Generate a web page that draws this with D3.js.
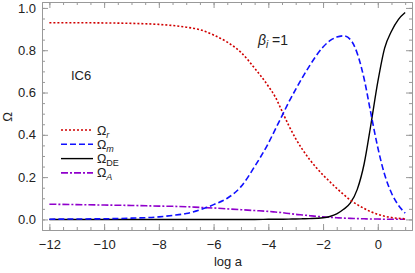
<!DOCTYPE html>
<html>
<head>
<meta charset="utf-8">
<script src="https://cdn.jsdelivr.net/npm/d3@7"></script>
<style>
  body { margin: 0; background: #fff; }
  svg text { font-family: "Liberation Sans", Arial, sans-serif; }
</style>
</head>
<body>
<div id="chart"></div>
<script>
// x values (log a) shared by all curves
const logA = [-12, -11, -10, -9, -8, -7.5, -7, -6.5, -6, -5.5, -5, -4.5, -4, -3.75, -3.5, -3.25, -3, -2.75, -2.5, -2, -1.75, -1.5, -1.25, -1, -0.75, -0.5, -0.25, 0, 0.25, 0.5, 0.75, 1];

const omegaR  = [0.930, 0.930, 0.929, 0.927, 0.922, 0.917, 0.909, 0.897, 0.872, 0.838, 0.790, 0.715, 0.630, 0.580, 0.512, 0.443, 0.382, 0.330, 0.285, 0.210, 0.178, 0.147, 0.118, 0.091, 0.070, 0.052, 0.036, 0.024, 0.015, 0.009, 0.005, 0.003];
const omegaM  = [0.001, 0.002, 0.003, 0.006, 0.012, 0.019, 0.028, 0.045, 0.070, 0.100, 0.155, 0.250, 0.360, 0.425, 0.490, 0.555, 0.615, 0.672, 0.725, 0.815, 0.845, 0.862, 0.868, 0.850, 0.785, 0.665, 0.500, 0.340, 0.212, 0.125, 0.068, 0.030];
const omegaDE = [0, 0, 0, 0, 0, 0, 0, 0, 0, 0, 0, 0, 0.0005, 0.0007, 0.001, 0.0015, 0.002, 0.003, 0.004, 0.008, 0.014, 0.026, 0.048, 0.078, 0.142, 0.262, 0.450, 0.650, 0.810, 0.890, 0.945, 0.978];
const omegaA  = [0.072, 0.070, 0.068, 0.066, 0.063, 0.062, 0.060, 0.057, 0.054, 0.050, 0.046, 0.042, 0.038, 0.035, 0.032, 0.028, 0.024, 0.021, 0.018, 0.012, 0.010, 0.008, 0.006, 0.005, 0.004, 0.003, 0.002, 0.002, 0.001, 0.001, 0.001, 0.001];

const xTicks = [-12, -10, -8, -6, -4, -2, 0];
const yTicks = [0, 0.2, 0.4, 0.6, 0.8, 1.0];

const series = [
  { sub: "r",  italic: true,  values: omegaR,  color: "#d00000", dash: "2,2",     width: 1.6 },
  { sub: "m",  italic: true,  values: omegaM,  color: "#1010ff", dash: "6,3",     width: 1.6 },
  { sub: "DE", italic: false, values: omegaDE, color: "#000000", dash: null,      width: 1.4 },
  { sub: "A",  italic: true,  values: omegaA,  color: "#9000cc", dash: "7,2,2,2", width: 1.6 }
];

const W = 415, H = 273;
const margin = { left: 42, right: 3, top: 2, bottom: 43 };

const svg = d3.select("#chart").append("svg")
  .attr("width", W).attr("height", H);

const x = d3.scaleLinear().domain([-12.27, 1.25]).range([margin.left, W - margin.right]);
const y = d3.scaleLinear().domain([-0.05, 1.028]).range([H - margin.bottom, margin.top]);

const axisColor = "#999";

// --- Frame with ticks on all four sides ---
const xMinor = d3.range(-12, 1.01, 0.5);
const yMinor = d3.range(0, 1.001, 0.05);

function styleAxis(g) {
  g.selectAll(".domain").attr("stroke", axisColor);
  g.selectAll(".tick line").attr("stroke", axisColor);
  g.selectAll(".tick text").attr("fill", "#222").style("font-size", "13px");
}

const fmtX = d => d < 0 ? "\u2212" + Math.abs(d) : String(d);

// bottom
svg.append("g").attr("transform", `translate(0,${H - margin.bottom})`)
  .call(d3.axisBottom(x).tickValues(xMinor).tickSize(-3).tickFormat("").tickSizeOuter(0)).call(styleAxis);
svg.append("g").attr("transform", `translate(0,${H - margin.bottom})`)
  .call(d3.axisBottom(x).tickValues(xTicks).tickSize(-6).tickPadding(10).tickFormat(fmtX).tickSizeOuter(0)).call(styleAxis);
// top
svg.append("g").attr("transform", `translate(0,${margin.top})`)
  .call(d3.axisTop(x).tickValues(xMinor).tickSize(-3).tickFormat("").tickSizeOuter(0)).call(styleAxis);
svg.append("g").attr("transform", `translate(0,${margin.top})`)
  .call(d3.axisTop(x).tickValues(xTicks).tickSize(-6).tickFormat("").tickSizeOuter(0)).call(styleAxis);
// left
svg.append("g").attr("transform", `translate(${margin.left},0)`)
  .call(d3.axisLeft(y).tickValues(yMinor).tickSize(-3).tickFormat("").tickSizeOuter(0)).call(styleAxis);
svg.append("g").attr("transform", `translate(${margin.left},0)`)
  .call(d3.axisLeft(y).tickValues(yTicks).tickSize(-6).tickPadding(6).tickFormat(d3.format(".1f")).tickSizeOuter(0)).call(styleAxis);
// right
svg.append("g").attr("transform", `translate(${W - margin.right},0)`)
  .call(d3.axisRight(y).tickValues(yMinor).tickSize(-3).tickFormat("").tickSizeOuter(0)).call(styleAxis);
svg.append("g").attr("transform", `translate(${W - margin.right},0)`)
  .call(d3.axisRight(y).tickValues(yTicks).tickSize(-6).tickFormat("").tickSizeOuter(0)).call(styleAxis);

// --- Curves ---
svg.append("clipPath").attr("id", "plot-clip").append("rect")
  .attr("x", margin.left).attr("y", margin.top)
  .attr("width", W - margin.left - margin.right).attr("height", H - margin.top - margin.bottom);

const line = d3.line().curve(d3.curveMonotoneX);

const curves = svg.append("g").attr("clip-path", "url(#plot-clip)");
// draw order: A, DE, r, m
[series[3], series[2], series[0], series[1]].forEach(s => {
  curves.append("path")
    .attr("d", line(logA.map((v, i) => [x(v), y(s.values[i])])))
    .attr("fill", "none")
    .attr("stroke", s.color)
    .attr("stroke-width", s.width)
    .attr("stroke-dasharray", s.dash);
});

// --- Legend ---
const legend = svg.append("g");
series.forEach((s, i) => {
  const ly = 130 + i * 14.3;
  legend.append("line")
    .attr("x1", 61).attr("x2", 93).attr("y1", ly).attr("y2", ly)
    .attr("stroke", s.color).attr("stroke-width", s.width)
    .attr("stroke-dasharray", s.dash);
  const t = legend.append("text").attr("x", 97).attr("y", ly + 4.5)
    .style("font-size", "12.5px").attr("fill", "#222");
  t.append("tspan").text("\u03A9");
  t.append("tspan").text(s.sub).attr("dy", 3).style("font-size", "9px")
    .style("font-style", s.italic ? "italic" : "normal");
});

// --- Annotations ---
svg.append("text").attr("x", 71).attr("y", 80).text("IC6")
  .style("font-size", "13px").attr("fill", "#222");

const beta = svg.append("text").attr("x", 258).attr("y", 45)
  .style("font-size", "14px").attr("fill", "#222");
beta.append("tspan").text("\u03B2").style("font-style", "italic");
beta.append("tspan").text("i").attr("dy", 3).style("font-size", "10px").style("font-style", "italic");
beta.append("tspan").text(" =1").attr("dy", -3);

// axis titles
svg.append("text").attr("x", 228).attr("y", 266).attr("text-anchor", "middle")
  .text("log a").style("font-size", "13px").attr("fill", "#222");
svg.append("text").attr("transform", "translate(12,117) rotate(-90)")
  .attr("text-anchor", "middle").text("\u03A9").style("font-size", "13px").attr("fill", "#222");
</script>
</body>
</html>
